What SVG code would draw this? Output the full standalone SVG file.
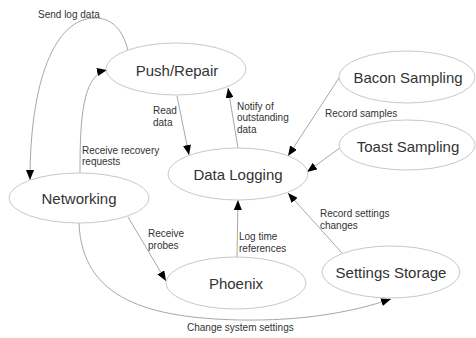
<svg xmlns="http://www.w3.org/2000/svg" width="476" height="338" viewBox="0 0 476 338">
<style>
.node ellipse{fill:#fff;stroke:#c8c8c8;stroke-width:1}
.node text{font-family:"Liberation Sans",Arial,sans-serif;font-size:15px;fill:#333;text-anchor:middle}
.edge{fill:none;stroke:#a8a8a8;stroke-width:1;marker-end:url(#ah)}
.lbl{font-family:"Liberation Sans",Arial,sans-serif;font-size:10px;fill:#333}
</style>
<defs>
<marker id="ah" viewBox="0 0 10 8" refX="10" refY="4" markerWidth="10" markerHeight="8" orient="auto" markerUnits="userSpaceOnUse">
<path d="M0,0 L10,4 L0,8 z" fill="#000"/>
</marker>
</defs>
<rect width="476" height="338" fill="#fff"/>
<g id="connectors">
<path class="edge" d="M128,51 C122,25 108,18 95,18 C55,18 30,80 30,180"/>
<path class="edge" d="M80,173 C80,120 82,75 107,70"/>
<path class="edge" d="M177,96 L189,155"/>
<path class="edge" d="M238,148 L228,88"/>
<path class="edge" d="M339,78 L288,156"/>
<path class="edge" d="M341,147 L307,172"/>
<path class="edge" d="M342,253 L288,193"/>
<path class="edge" d="M237,257 L238,200"/>
<path class="edge" d="M128,217 L166,281"/>
<path class="edge" d="M79,223 C82,300 150,318 240,320 C300,321 350,313 391,299"/>
<text class="lbl" x="38" y="18">Send log data</text>
<text class="lbl" x="82" y="153.5">Receive recovery</text>
<text class="lbl" x="82" y="165">requests</text>
<text class="lbl" x="153" y="114">Read</text>
<text class="lbl" x="153" y="125.5">data</text>
<text class="lbl" x="237" y="109.5">Notify of</text>
<text class="lbl" x="237" y="121">outstanding</text>
<text class="lbl" x="237" y="132.5">data</text>
<text class="lbl" x="325" y="117">Record samples</text>
<text class="lbl" x="320" y="217">Record settings</text>
<text class="lbl" x="320" y="228.5">changes</text>
<text class="lbl" x="239" y="240">Log time</text>
<text class="lbl" x="239" y="251.5">references</text>
<text class="lbl" x="148" y="237">Receive</text>
<text class="lbl" x="148" y="248.5">probes</text>
<text class="lbl" x="187" y="330.5">Change system settings</text>
</g>
<g id="push-repair" class="node"><ellipse cx="176" cy="69" rx="70" ry="26"/><text x="177" y="76">Push/Repair</text></g>
<g id="bacon-sampling" class="node"><ellipse cx="407" cy="77" rx="68" ry="26"/><text x="408" y="82.5">Bacon Sampling</text></g>
<g id="toast-sampling" class="node"><ellipse cx="407" cy="145" rx="68" ry="25"/><text x="408" y="151.5">Toast Sampling</text></g>
<g id="data-logging" class="node"><ellipse cx="238" cy="174" rx="70" ry="26"/><text x="238" y="180">Data Logging</text></g>
<g id="networking" class="node"><ellipse cx="79" cy="198" rx="70" ry="25"/><text x="79" y="204">Networking</text></g>
<g id="phoenix" class="node"><ellipse cx="236" cy="283" rx="70" ry="26"/><text x="236" y="288.5">Phoenix</text></g>
<g id="settings-storage" class="node"><ellipse cx="391" cy="272" rx="69" ry="26"/><text x="391" y="278">Settings Storage</text></g>
</svg>
